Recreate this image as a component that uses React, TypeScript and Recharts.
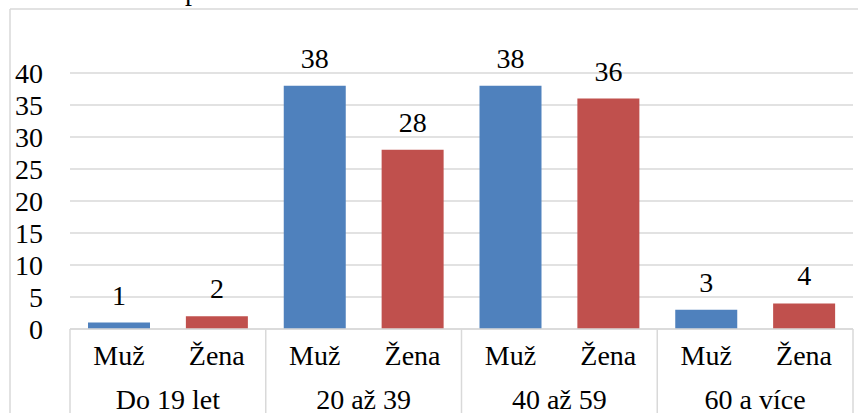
import { BarChart, Bar, XAxis, YAxis, CartesianGrid, Cell, LabelList } from 'recharts';

const groups = ['Do 19 let', '20 až 39', '40 až 59', '60 a více'];
const sexes = ['Muž', 'Žena'];
const muzValues = [1, 38, 38, 3];
const zenaValues = [2, 28, 36, 4];
const yTicks = [0, 5, 10, 15, 20, 25, 30, 35, 40];

const colors = ['#4f81bd', '#c0504d'];

const data = groups.flatMap((group, i) => [
  { group, sex: sexes[0], value: muzValues[i], first: true },
  { group, sex: sexes[1], value: zenaValues[i], first: false },
]);

const W = 858;
const H = 413;
const margin = { top: 73, right: 5, left: 0, bottom: 0 };
const Y_AXIS_W = 70;
const X_AXIS_H = 84;
const band = (W - margin.left - margin.right - Y_AXIS_W) / data.length;
const serif = 'Liberation Serif, Times New Roman, Tinos, serif';
const lineColor = '#d9d9d9';

const css = `#root svg text { font-family: "Liberation Serif", "Times New Roman", Tinos, serif !important; }`;

function CategoryTick(props: any) {
  const { x, y, payload } = props;
  const i = payload.index;
  const row = data[i];
  return (
    <g>
      <text x={x} y={y + 36} textAnchor="middle" fontFamily={serif} fontSize={28} fill="#000">
        {row.sex}
      </text>
      {i % 2 === 0 && (
        <>
          <text x={x + band / 2} y={y + 80} textAnchor="middle" fontFamily={serif} fontSize={28} fill="#000">
            {row.group}
          </text>
          <line x1={x - band / 2} x2={x - band / 2} y1={y} y2={y + X_AXIS_H} stroke={lineColor} strokeWidth={1.5} />
        </>
      )}
      {i === data.length - 1 && (
        <line x1={x + band / 2} x2={x + band / 2} y1={y} y2={y + X_AXIS_H} stroke={lineColor} strokeWidth={1.5} />
      )}
    </g>
  );
}

function YTick(props: any) {
  const { x, y, payload } = props;
  return (
    <text x={x} y={y} dy={10} textAnchor="end" fontFamily={serif} fontSize={28} fill="#000">
      {payload.value}
    </text>
  );
}

function ValueLabel(props: any) {
  const { x, y, width, value } = props;
  return (
    <text x={x + width / 2} y={y - 18} textAnchor="middle" fontFamily={serif} fontSize={28} fill="#000">
      {value}
    </text>
  );
}

export default function App() {
  return (
    <div style={{ position: 'absolute', left: 0, top: 0, width: W, height: H, overflow: 'hidden', background: '#fff' }}>
      <style>{css}</style>
      {/* outer frame and the cut-off title, only its descender shows at the top edge */}
      <svg width={W} height={H} style={{ position: 'absolute', left: 0, top: 0 }}>
        <text x={185} y={0} fontFamily={serif} fontSize={28} fill="#000">
          p
        </text>
        <line x1={10} x2={W} y1={9} y2={9} stroke={lineColor} strokeWidth={1.5} />
        <line x1={10} x2={10} y1={9} y2={H} stroke={lineColor} strokeWidth={1.5} />
      </svg>
      <div style={{ position: 'absolute', left: 0, top: 0 }}>
        <BarChart width={W} height={H} data={data} margin={margin}>
          <CartesianGrid vertical={false} stroke={lineColor} strokeWidth={1.5} />
          <XAxis
            dataKey="sex"
            height={X_AXIS_H}
            interval={0}
            tickSize={0}
            tickMargin={0}
            tickLine={false}
            axisLine={{ stroke: lineColor, strokeWidth: 1.5 }}
            tick={<CategoryTick />}
          />
          <YAxis
            width={Y_AXIS_W}
            domain={[0, 40]}
            ticks={yTicks}
            interval={0}
            axisLine={false}
            tickLine={false}
            tickSize={6}
            tickMargin={21}
            tick={<YTick />}
          />
          <Bar dataKey="value" barSize={62} isAnimationActive={false}>
            {data.map((d, i) => (
              <Cell key={i} fill={d.first ? colors[0] : colors[1]} />
            ))}
            <LabelList dataKey="value" content={<ValueLabel />} />
          </Bar>
        </BarChart>
      </div>
    </div>
  );
}
